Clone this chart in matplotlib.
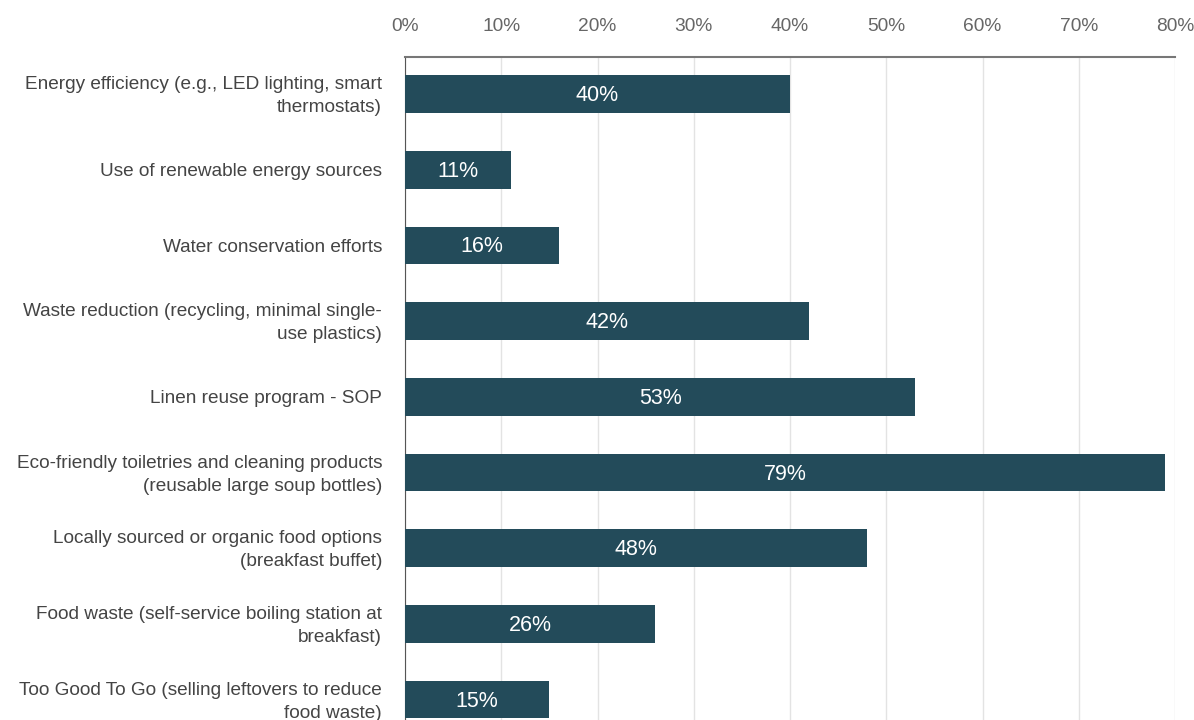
import matplotlib.pyplot as plt
from matplotlib.ticker import FuncFormatter
from matplotlib.transforms import ScaledTranslation

plt.rcParams['font.family'] = ['Liberation Sans', 'DejaVu Sans']

categories = [
    "Energy efficiency (e.g., LED lighting, smart\nthermostats)",
    "Use of renewable energy sources",
    "Water conservation efforts",
    "Waste reduction (recycling, minimal single-\nuse plastics)",
    "Linen reuse program - SOP",
    "Eco-friendly toiletries and cleaning products\n(reusable large soup bottles)",
    "Locally sourced or organic food options\n(breakfast buffet)",
    "Food waste (self-service boiling station at\nbreakfast)",
    "Too Good To Go (selling leftovers to reduce\nfood waste)",
]
shares = [40, 11, 16, 42, 53, 79, 48, 26, 15]
xticks = [0, 10, 20, 30, 40, 50, 60, 70, 80]

bar_color = '#234b5a'

fig = plt.figure(figsize=(11.94, 7.2), dpi=100)
ax = fig.add_axes([405 / 1194, 0, 770 / 1194, 1 - 57 / 720])

ypos = list(range(len(categories)))
bars = ax.barh(ypos, shares, height=0.5, color=bar_color, zorder=3)

for b, v in zip(bars, shares):
    ax.text(v / 2, b.get_y() + b.get_height() / 2 + 0.02, f"{v}%",
            ha='center', va='center', color='white', fontsize=15.5, zorder=4)

ax.set_xlim(0, 80)
ax.set_ylim(8.27, -0.49)
ax.set_xticks(xticks)
ax.xaxis.set_major_formatter(FuncFormatter(lambda v, p: f"{v:.0f}%"))
ax.xaxis.tick_top()
ax.tick_params(axis='x', length=0, pad=16, labelsize=13.8, labelcolor='#666666')
ax.set_yticks(ypos)
ax.set_yticklabels(categories, fontsize=13.7, color='#444444', linespacing=1.45,
                   va='center')
ax.tick_params(axis='y', length=0, pad=16.5)

# nudge the category labels down a touch
nudge = ScaledTranslation(0, -1.5 / 72, fig.dpi_scale_trans)
for lbl in ax.get_yticklabels():
    lbl.set_transform(lbl.get_transform() + nudge)

ax.grid(axis='x', color='#e3e3e3', linewidth=1, zorder=0)
for s in ['right', 'bottom']:
    ax.spines[s].set_visible(False)
ax.spines['left'].set_color('#555555')
ax.spines['top'].set_color('#777777')
ax.spines['top'].set_linewidth(1.5)

fig.savefig('out.png', dpi=100)
